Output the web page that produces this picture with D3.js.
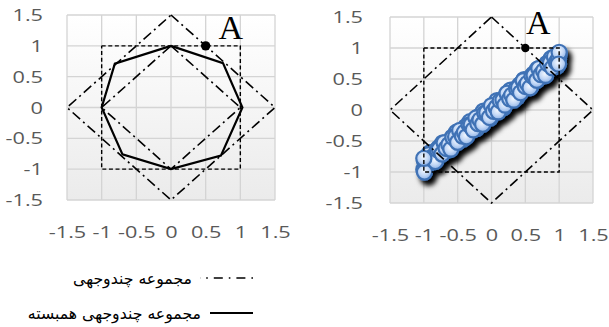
<!DOCTYPE html>
<html>
<head>
<meta charset="utf-8">
<script src="https://cdn.jsdelivr.net/npm/d3@7"></script>
<style>
  body { margin: 0; background: #fff; }
  svg { display: block; }
</style>
</head>
<body>
<svg id="chart" width="609" height="327"></svg>
<script>
// Axis ticks and labels shared by both panels
const axisTicks = [-1.5, -1, -0.5, 0, 0.5, 1, 1.5];
const tickLabels = ["-1.5", "-1", "-0.5", "0", "0.5", "1", "1.5"];

// Polytope set (outer diamond)
const outerDiamondX = [0, 1.5, 0, -1.5, 0];
const outerDiamondY = [1.5, 0, -1.5, 0, 1.5];

// Inner diamond
const innerDiamondX = [0, 1, 0, -1, 0];
const innerDiamondY = [1, 0, -1, 0, 1];

// Box [-1,1] x [-1,1]
const boxX = [-1, 1, 1, -1, -1];
const boxY = [1, 1, -1, -1, 1];

// Correlated polytope set (octagon)
const octagonX = [0, 0.75, 1.03, 0.72, 0, -0.7, -1, -0.81, 0];
const octagonY = [1, 0.72, 0, -0.78, -1, -0.76, 0, 0.71, 1];

// Point A
const pointA = [0.5, 1];
const pointLabel = "A";

// Sampled uncertainty points (right panel)
const scatterX = [-1.00, -0.97, -0.94, -0.91, -0.88, -0.85, -0.82, -0.78, -0.75, -0.72,
  -0.68, -0.65, -0.62, -0.58, -0.55, -0.52, -0.48, -0.45, -0.42, -0.38,
  -0.35, -0.32, -0.28, -0.25, -0.22, -0.18, -0.15, -0.12, -0.08, -0.05,
  -0.02, 0.02, 0.05, 0.08, 0.12, 0.15, 0.18, 0.22, 0.25, 0.28,
  0.32, 0.35, 0.38, 0.42, 0.45, 0.48, 0.52, 0.55, 0.58, 0.62,
  0.65, 0.68, 0.72, 0.75, 0.78, 0.82, 0.85, 0.88, 0.91, 0.94,
  0.97, 1.00,
  -0.99, -0.96, -0.93, -0.90, -0.86, -0.83, -0.80, -0.77, -0.73, -0.70,
  -0.67, -0.63, -0.60, -0.57, -0.53, -0.50, -0.47, -0.43, -0.40, -0.37,
  -0.33, -0.30, -0.27, -0.23, -0.20, -0.17, -0.13, -0.10, -0.07, -0.03,
  0.00, 0.03, 0.07, 0.10, 0.13, 0.17, 0.20, 0.23, 0.27, 0.30,
  0.33, 0.37, 0.40, 0.43, 0.47, 0.50, 0.53, 0.57, 0.60, 0.63,
  0.67, 0.70, 0.73, 0.77, 0.80, 0.83, 0.87, 0.90, 0.93, 0.96,
  0.99, -0.99, -1.00, 1.00, 0.99];
const scatterY = [-0.96, -0.77, -0.84, -0.69, -0.83, -0.71, -0.81, -0.61, -0.68, -0.53,
  -0.66, -0.54, -0.64, -0.44, -0.51, -0.36, -0.49, -0.37, -0.47, -0.27,
  -0.34, -0.19, -0.32, -0.20, -0.30, -0.10, -0.17, -0.02, -0.15, -0.03,
  -0.13, 0.07, 0.00, 0.15, 0.02, 0.14, 0.04, 0.24, 0.17, 0.32,
  0.19, 0.31, 0.21, 0.41, 0.34, 0.49, 0.36, 0.48, 0.38, 0.58,
  0.51, 0.66, 0.53, 0.65, 0.55, 0.75, 0.68, 0.83, 0.69, 0.81,
  0.71, 0.90,
  -0.82, -0.91, -0.72, -0.82, -0.75, -0.83, -0.64, -0.63, -0.71, -0.53,
  -0.62, -0.56, -0.63, -0.44, -0.43, -0.52, -0.33, -0.42, -0.36, -0.43,
  -0.24, -0.24, -0.32, -0.13, -0.22, -0.16, -0.23, -0.05, -0.04, -0.12,
  0.07, -0.02, 0.04, -0.03, 0.15, 0.16, 0.08, 0.27, 0.18, 0.24,
  0.16, 0.35, 0.36, 0.28, 0.47, 0.38, 0.43, 0.36, 0.55, 0.56,
  0.48, 0.67, 0.57, 0.63, 0.56, 0.75, 0.76, 0.68, 0.86, 0.77,
  0.82, -1.00, -0.78, 0.93, 0.74];

// Legend entries
const legendLabels = ["مجموعه چندوجهی", "مجموعه چندوجهی همبسته"];

const svg = d3.select("#chart");
const defs = svg.append("defs");

const bg = defs.append("linearGradient").attr("id", "plotBg")
  .attr("x1", 0).attr("y1", 0).attr("x2", 0).attr("y2", 1);
bg.append("stop").attr("offset", "0%").attr("stop-color", "#ffffff");
bg.append("stop").attr("offset", "100%").attr("stop-color", "#ebebeb");

const bubble = defs.append("radialGradient").attr("id", "bubble")
  .attr("cx", "45%").attr("cy", "40%").attr("r", "60%");
bubble.append("stop").attr("offset", "0%").attr("stop-color", "#f2f7fe");
bubble.append("stop").attr("offset", "55%").attr("stop-color", "#c3d8f6");
bubble.append("stop").attr("offset", "100%").attr("stop-color", "#8eb2e6");

const shadow = defs.append("filter").attr("id", "shadow")
  .attr("x", "-20%").attr("y", "-20%").attr("width", "150%").attr("height", "150%");
shadow.append("feDropShadow").attr("dx", 4).attr("dy", 5)
  .attr("stdDeviation", 2.4).attr("flood-color", "#000").attr("flood-opacity", 1);

const DASH_DOT = "10,4,2,4";
const DASHED = "4,2.6";
const LABEL_SX = 1.4;

function drawPanel(box, opts) {
  const x = d3.scaleLinear().domain([-1.5, 1.5]).range([box.x0, box.x1]);
  const y = d3.scaleLinear().domain([-1.5, 1.5]).range([box.y1, box.y0]);
  const g = svg.append("g");

  g.append("rect")
    .attr("x", box.x0).attr("y", box.y0)
    .attr("width", box.x1 - box.x0).attr("height", box.y1 - box.y0)
    .attr("fill", "url(#plotBg)");

  // gridlines
  g.append("g").selectAll("line").data(axisTicks).join("line")
    .attr("x1", d => x(d)).attr("x2", d => x(d))
    .attr("y1", box.y0).attr("y2", box.y1)
    .attr("stroke", "#d4d4d4").attr("stroke-width", 1.3);
  g.append("g").selectAll("line").data(axisTicks).join("line")
    .attr("y1", d => y(d)).attr("y2", d => y(d))
    .attr("x1", box.x0).attr("x2", box.x1)
    .attr("stroke", "#d4d4d4").attr("stroke-width", 1.3);

  // axes (labels only)
  const fmt = d => tickLabels[axisTicks.indexOf(d)];
  const yAxis = g.append("g")
    .attr("transform", `translate(${box.x0},0)`)
    .call(d3.axisLeft(y).tickValues(axisTicks).tickFormat(fmt).tickSize(0));
  yAxis.select(".domain").remove();
  yAxis.selectAll("text")
    .attr("x", 0).attr("dy", null).attr("y", 5.5)
    .attr("text-anchor", "end")
    .attr("transform", `translate(${-opts.yGap},0) scale(${LABEL_SX},1)`);

  const xAxis = g.append("g")
    .attr("transform", `translate(0,${box.y1})`)
    .call(d3.axisBottom(x).tickValues(axisTicks).tickFormat(fmt).tickSize(0));
  xAxis.select(".domain").remove();
  xAxis.selectAll("text")
    .attr("y", 0).attr("dy", null).attr("x", 0)
    .attr("text-anchor", "middle")
    .attr("transform", `translate(0,${opts.xGap}) scale(${LABEL_SX},1)`);

  g.selectAll(".tick text")
    .attr("font-family", "'Open Sans', sans-serif")
    .attr("font-size", 15.5).attr("fill", "#595959");

  const line = (xs, ys) => d3.line().x(i => x(xs[i])).y(i => y(ys[i]))(d3.range(xs.length));

  if (opts.scatter) {
    g.append("g").attr("filter", "url(#shadow)")
      .selectAll("circle").data(d3.range(scatterX.length)).join("circle")
      .attr("cx", i => x(scatterX[i])).attr("cy", i => y(scatterY[i]))
      .attr("r", 7.6)
      .attr("fill", "url(#bubble)")
      .attr("stroke", "#3f72b5").attr("stroke-width", 2.2);
  }

  g.append("path").attr("d", line(boxX, boxY))
    .attr("fill", "none").attr("stroke", "#000").attr("stroke-width", 1.4)
    .attr("stroke-dasharray", DASHED);

  g.append("path").attr("d", line(outerDiamondX, outerDiamondY))
    .attr("fill", "none").attr("stroke", "#000").attr("stroke-width", 1.6)
    .attr("stroke-dasharray", DASH_DOT);

  if (opts.inner) {
    g.append("path").attr("d", line(innerDiamondX, innerDiamondY))
      .attr("fill", "none").attr("stroke", "#000").attr("stroke-width", 1.6)
      .attr("stroke-dasharray", DASH_DOT);
  }

  if (opts.octagon) {
    g.append("path").attr("d", line(octagonX, octagonY))
      .attr("fill", "none").attr("stroke", "#000").attr("stroke-width", 2.2)
      .attr("stroke-linejoin", "miter");
  }

  g.append("circle")
    .attr("cx", x(pointA[0])).attr("cy", y(pointA[1]))
    .attr("r", opts.dotR).attr("fill", "#000");

  g.append("text")
    .attr("x", x(pointA[0]) + opts.labelDx).attr("y", y(pointA[1]) + opts.labelDy)
    .attr("text-anchor", "middle")
    .attr("font-family", "'Liberation Serif', 'Times New Roman', serif")
    .attr("font-size", 34).attr("fill", "#000")
    .text(pointLabel);
}

drawPanel({ x0: 67, x1: 275, y0: 15, y1: 200 },
  { yGap: 24, xGap: 38, inner: true, octagon: true, scatter: false,
    dotR: 4.7, labelDx: 25, labelDy: -7 });

drawPanel({ x0: 390, x1: 593, y0: 17, y1: 203 },
  { yGap: 27, xGap: 38, inner: false, octagon: false, scatter: true,
    dotR: 4.2, labelDx: 13, labelDy: -14 });

// Legend
const legend = svg.append("g");
legend.append("line")
  .attr("x1", 253).attr("x2", 200).attr("y1", 278).attr("y2", 278)
  .attr("stroke", "#000").attr("stroke-width", 1.6)
  .attr("stroke-dasharray", "1.6,6,9,6");
legend.append("line")
  .attr("x1", 210).attr("x2", 253).attr("y1", 313).attr("y2", 313)
  .attr("stroke", "#000").attr("stroke-width", 2);

const legendText = legend.selectAll("text").data(legendLabels).join("text")
  .attr("x", (d, i) => i === 0 ? 192 : 201)
  .attr("y", (d, i) => i === 0 ? 284 : 319)
  .attr("text-anchor", "end")
  .attr("font-family", "'DejaVu Sans', sans-serif")
  .attr("font-size", 14)
  .attr("fill", "#000")
  .text(d => d);

// size the legend text so the first entry spans its slot
const w0 = legendText.node().getComputedTextLength();
if (w0 > 0) legendText.attr("font-size", 14 * 119 / w0);
</script>
</body>
</html>
